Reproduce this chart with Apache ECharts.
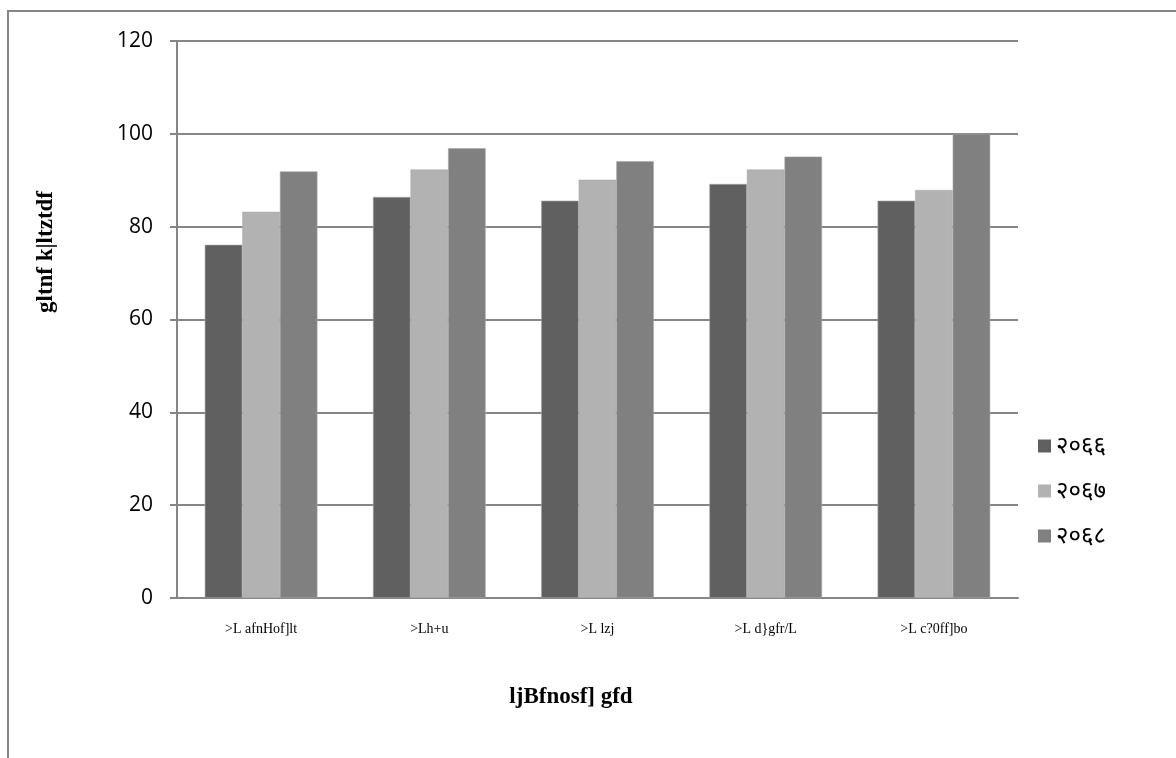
<!DOCTYPE html>
<html>
<head>
<meta charset="utf-8">
<script src="https://cdn.jsdelivr.net/npm/echarts@6/dist/echarts.min.js"></script>
<style>
html,body{margin:0;padding:0;background:#fff;}
#chart{width:1176px;height:758px;}
</style>
</head>
<body>
<div id="chart"></div>
<script>
const categories = ['>L afnHof]lt', '>Lh+u', '>L lzj', '>L d}gfr/L', '>L c?0ff]bo'];
const seriesNames = ['२०६६', '२०६७', '२०६८'];
const values2066 = [76.1, 86.4, 85.6, 89.2, 85.6];
const values2067 = [83.2, 92.3, 90.1, 92.3, 87.9];
const values2068 = [91.9, 96.9, 94.1, 95.1, 100];
const yTicks = [0, 20, 40, 60, 80, 100, 120];
const xTitle = 'ljBfnosf] gfd';
const yTitle = 'gltnf k|ltztdf';

const colors = ['#606060', '#b2b2b2', '#808080'];
const chart = echarts.init(document.getElementById('chart'));
const mk = (name, data, i) => ({
  name, type: 'bar', data, barGap: '0%', barCategoryGap: '33%',
  itemStyle: { color: colors[i], borderColor: '#a8a8a8', borderWidth: 0.6 },
  animation: false
});
chart.setOption({
  animation: false,
  graphic: [{
    type: 'rect', shape: { x: 8, y: 11, width: 1300, height: 900 },
    style: { fill: 'none', stroke: '#868686', lineWidth: 2 }, silent: true, z: -10
  }, {
    type: 'text', x: 46, y: 252, rotation: Math.PI / 2,
    style: { text: yTitle, fill: '#000', font: 'bold 23px "Liberation Serif", serif', align: 'center', verticalAlign: 'middle' },
    silent: true
  }, {
    type: 'text', x: 571, y: 697,
    style: { text: xTitle, fill: '#000', font: 'bold 23px "Liberation Serif", serif', align: 'center', verticalAlign: 'middle' },
    silent: true
  }],
  grid: { left: 177, right: 158, top: 41, bottom: 160, containLabel: false },
  legend: {
    orient: 'vertical', left: 1033, top: 429,
    itemWidth: 13, itemHeight: 13, itemGap: 21,
    icon: 'rect',
    itemStyle: { borderWidth: 0 },
    textStyle: { fontFamily: '"Noto Sans", "DejaVu Sans", sans-serif', fontSize: 24, color: '#000' },
    data: seriesNames
  },
  xAxis: {
    type: 'category', data: categories,
    axisLine: { lineStyle: { color: '#868686', width: 2 } },
    axisTick: { show: false },
    axisLabel: { fontFamily: '"Liberation Serif", serif', fontSize: 14, color: '#000', margin: 24 }
  },
  yAxis: {
    type: 'value', min: 0, max: 120, interval: 20,
    axisLine: { show: true, lineStyle: { color: '#868686', width: 2 } },
    axisTick: { show: true, length: 7, lineStyle: { color: '#868686', width: 2 } },
    axisLabel: { fontFamily: '"Open Sans", "Liberation Sans", sans-serif', fontSize: 21, color: '#000', margin: 24,
      formatter: v => yTicks.includes(v) ? String(v) : '' },
    splitLine: { lineStyle: { color: '#868686', width: 2 } }
  },
  series: [mk(seriesNames[0], values2066, 0), mk(seriesNames[1], values2067, 1), mk(seriesNames[2], values2068, 2)]
});
</script>
</body>
</html>
